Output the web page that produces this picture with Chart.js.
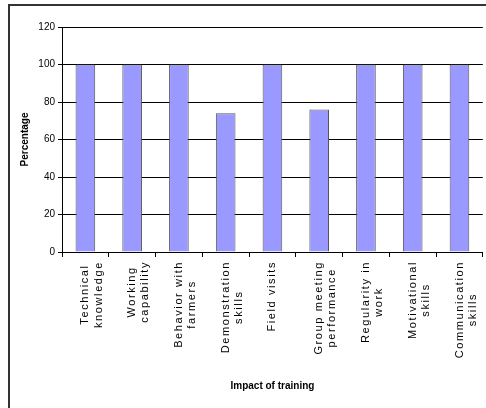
<!DOCTYPE html>
<html>
<head>
<meta charset="utf-8">
<script src="https://cdn.jsdelivr.net/npm/chart.js@4"></script>
<style>
  html, body { margin: 0; padding: 0; background: #fff; overflow: hidden; }
  #wrap { position: relative; width: 486px; height: 408px; overflow: hidden; }
  #frame { position: absolute; left: 8px; top: 4px; width: 600px; height: 600px;
           border: 2px solid #333; pointer-events: none; }
  canvas { position: absolute; left: 0; top: 0; }
</style>
</head>
<body>
<div id="wrap">
  <div id="frame"></div>
  <canvas id="chart-1" width="490" height="408"></canvas>
</div>
<script>
const categories = [
  ['Technical', 'knowledge'],
  ['Working', 'capability'],
  ['Behavior with', 'farmers'],
  ['Demonstration', 'skills'],
  ['Field visits'],
  ['Group meeting', 'performance'],
  ['Regularity in', 'work'],
  ['Motivational', 'skills'],
  ['Communication', 'skills']
];
const percentages = [100, 100, 100, 74, 100, 76, 100, 100, 100];
const yTicks = [0, 20, 40, 60, 80, 100, 120];

const chartOne = document.getElementById('chart-1');
const SPACING = '1.6px';

// category labels: spaced out, lines centred on each other, block starting at the axis
const spacedLabels = {
  id: 'spacedLabels',
  afterUpdate(chart) {
    const x = chart.scales.x;
    if (x._spaced) return;
    const origDraw = x.drawLabels;
    const origGet = x.getLabelItems;
    x.getLabelItems = function (area) {
      const ctx = this.ctx;
      return origGet.call(this, area).map(it => {
        const lines = Array.isArray(it.label) ? it.label : [it.label];
        ctx.save();
        ctx.font = it.font.string;
        ctx.letterSpacing = SPACING;
        const w = Math.max(...lines.map(l => ctx.measureText(l).width));
        ctx.restore();
        const t = it.options.translation;
        return { ...it, options: { ...it.options, textAlign: 'center', translation: [t[0], t[1] + w / 2] } };
      });
    };
    x.drawLabels = function (area) {
      const ctx = this.ctx;
      ctx.save();
      ctx.letterSpacing = SPACING;
      origDraw.call(this, area);
      ctx.restore();
    };
    x._spaced = true;
  }
};

new Chart(chartOne, {
  type: 'bar',
  data: {
    labels: categories,
    datasets: [{
      data: percentages,
      backgroundColor: '#9999FF',
      borderColor: '#555555',
      borderWidth: 1,
      categoryPercentage: 1,
      barPercentage: 0.42
    }]
  },
  options: {
    responsive: false,
    animation: false,
    layout: { padding: { top: 27, right: 2.3, left: 0, bottom: 0 } },
    plugins: { legend: { display: false }, tooltip: { enabled: false } },
    scales: {
      x: {
        afterFit: (scale) => { scale.height = 156; },
        grid: { drawOnChartArea: false, drawTicks: true, tickLength: 5, color: '#000' },
        border: { color: '#000' },
        ticks: {
          autoSkip: false,
          minRotation: 90,
          maxRotation: 90,
          padding: 4,
          color: '#000',
          font: { family: 'Liberation Sans, Arial', size: 11 }
        },
        title: {
          display: true,
          text: 'Impact of training',
          color: '#000',
          font: { family: 'Liberation Sans, Arial', size: 10, weight: 'bold' },
          padding: { top: 0, bottom: 16 }
        }
      },
      y: {
        min: 0,
        max: 120,
        afterFit: (scale) => { scale.width = 62; },
        afterBuildTicks: (scale) => { scale.ticks = yTicks.map(v => ({ value: v })); },
        grid: { color: '#000', tickLength: 4 },
        border: { color: '#000' },
        ticks: {
          padding: 3,
          color: '#000',
          font: { family: 'Liberation Sans, Arial', size: 10 }
        },
        title: {
          display: true,
          text: 'Percentage',
          color: '#000',
          font: { family: 'Liberation Sans, Arial', size: 10, weight: 'bold' },
          padding: { top: 19, bottom: 0 }
        }
      }
    }
  },
  plugins: [spacedLabels]
});
</script>
</body>
</html>
